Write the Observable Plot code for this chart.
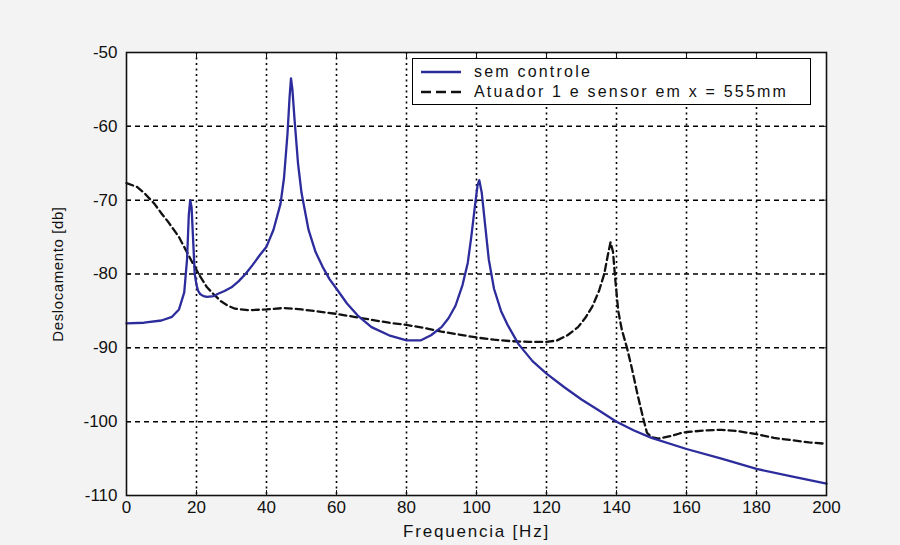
<!DOCTYPE html>
<html>
<head>
<meta charset="utf-8">
<script src="https://cdn.jsdelivr.net/npm/d3@7"></script>
<script src="https://cdn.jsdelivr.net/npm/@observablehq/plot@0.6"></script>
<style>
  html, body { margin: 0; padding: 0; background: #f3f3f3; }
  #wrap { position: relative; width: 900px; height: 545px; font-family: "Liberation Sans", Arial, sans-serif; }
  #legend { position: absolute; left: 412px; top: 58px; width: 397px; height: 45px; background: #fff; border: 1.5px solid #000; font-size: 16px; letter-spacing: 2.2px; color: #111; }
  #legend .row { position: absolute; left: 0; height: 20px; display: flex; align-items: center; white-space: nowrap; }
  #legend svg { margin-left: 8px; margin-right: 13px; }
</style>
</head>
<body>
<div id="wrap">
  <div id="chart"></div>
  <div id="legend">
    <div class="row" style="top:3px"><svg width="40" height="6"><line x1="0" y1="3" x2="40" y2="3" stroke="#2c2c9c" stroke-width="2.4"/></svg><span id="lg0"></span></div>
    <div class="row" style="top:23px"><svg width="40" height="6"><line x1="0" y1="3" x2="40" y2="3" stroke="#111" stroke-width="2.4" stroke-dasharray="10,5"/></svg><span id="lg1"></span></div>
  </div>
</div>
<script>
const seriesNames = ["sem controle", "Atuador 1 e sensor em x = 555mm"];
const xLabel = "Frequencia [Hz]";
const yLabel = "Deslocamento [db]";
const xTicks = [0, 20, 40, 60, 80, 100, 120, 140, 160, 180, 200];
const yTicks = [-50, -60, -70, -80, -90, -100, -110];

const freqA = [0, 5, 10, 13, 15, 16.5, 17.3, 17.8, 18.2, 18.6, 19, 19.5, 20, 20.5, 21, 22, 23, 25, 26, 28, 30, 32, 34, 36, 38, 40, 42, 44, 45, 46, 46.6, 47, 47.4, 48, 49, 50, 52, 54, 56, 58, 60, 63, 66, 70, 75, 80, 84, 87, 90, 92, 94, 96, 97.5, 98.5, 99.5, 100.3, 100.8, 101.5, 102.5, 103.5, 105, 107, 109, 112, 116, 120, 125, 130, 135, 140, 145, 150, 160, 170, 180, 190, 200];
const semControle = [-86.7, -86.6, -86.3, -85.8, -84.8, -82.5, -78, -72, -70, -71, -75, -80, -81.5, -82.3, -82.7, -83, -83.1, -83.0, -82.7, -82.3, -81.8, -81, -80, -78.8, -77.5, -76.3, -74, -70.5, -67, -61, -56, -53.5, -55, -59, -65, -69, -74, -77, -79, -80.7, -82, -84, -85.6, -87.2, -88.3, -89, -89, -88.3, -87.2, -86, -84.3, -81.5, -78.5, -75, -71, -68, -67.3, -69, -73.5, -78, -82, -85, -87, -89.5, -91.8, -93.5, -95.3, -97, -98.5, -100, -101.2, -102.2, -103.7, -105, -106.4, -107.4, -108.4];

const freqB = [0, 3, 5, 8, 10, 12, 15, 17, 19, 21, 23, 25, 27, 29, 31, 35, 40, 45, 50, 55, 60, 65, 70, 75, 80, 85, 90, 95, 100, 105, 110, 115, 120, 123, 126, 129, 131, 133, 135, 136.5, 137.5, 138.3, 139, 139.7, 140.5, 141.5, 143, 144.5, 146, 147.5, 148.7, 150, 152, 154, 156, 158, 160, 165, 170, 175, 180, 185, 190, 195, 200];
const atuador = [-67.7, -68.2, -69, -70.5, -71.8, -73, -75, -76.8, -78.6, -80.3, -81.8, -82.8, -83.7, -84.3, -84.7, -84.9, -84.8, -84.6, -84.8, -85.1, -85.4, -85.8, -86.2, -86.6, -86.9, -87.3, -87.8, -88.2, -88.6, -88.9, -89.1, -89.2, -89.2, -89, -88.3, -87.2, -86, -84.5, -82.3, -80, -77.5, -75.7, -77, -81, -85, -87.5, -90, -93, -96.3, -99.3, -101.5, -102.1, -102.3, -102.1, -101.9, -101.6, -101.4, -101.2, -101.1, -101.3, -101.7, -102.2, -102.5, -102.8, -103];

const dataA = freqA.map((f, i) => ({f, v: semControle[i]}));
const dataB = freqB.map((f, i) => ({f, v: atuador[i]}));

document.getElementById("lg0").textContent = seriesNames[0];
document.getElementById("lg1").textContent = seriesNames[1];

const fmt = d => String(d);

const chart = Plot.plot({
  width: 900,
  height: 545,
  marginLeft: 126,
  marginRight: 74,
  marginTop: 52,
  marginBottom: 50,
  style: {background: "#f3f3f3", fontFamily: "Liberation Sans, Arial, sans-serif", fontSize: "16px", color: "#111"},
  x: {domain: [0, 200]},
  y: {domain: [-110, -50]},
  marks: [
    Plot.frame({fill: "white", stroke: null}),
    Plot.gridX(xTicks.slice(1, -1), {stroke: "#000", strokeOpacity: 1, strokeWidth: 1.6, strokeDasharray: "2,3.5"}),
    Plot.gridY(yTicks.slice(1, -1), {stroke: "#000", strokeOpacity: 1, strokeWidth: 1.5, strokeDasharray: "5,4"}),
    Plot.line(dataB, {x: "f", y: "v", stroke: "#111", strokeWidth: 2.3, strokeDasharray: "7,4"}),
    Plot.line(dataA, {x: "f", y: "v", stroke: "#2c2c9c", strokeWidth: 2.3}),
    Plot.frame({stroke: "#111", strokeWidth: 1.6}),
    Plot.axisX(xTicks, {anchor: "bottom", tickSize: -5, tickFormat: () => "", label: null}),
    Plot.axisX(xTicks, {anchor: "top", tickSize: -5, tickFormat: () => "", label: null}),
    Plot.axisY(yTicks, {anchor: "left", tickSize: -5, tickFormat: () => "", label: null}),
    Plot.axisY(yTicks, {anchor: "right", tickSize: -5, tickFormat: () => "", label: null}),
    Plot.axisX(xTicks, {anchor: "bottom", tickSize: 0, tickPadding: 5, fontSize: 17, tickFormat: fmt, label: null}),
    Plot.axisY(yTicks, {anchor: "left", tickSize: 0, tickPadding: 9, fontSize: 17, tickFormat: fmt, label: null}),
    Plot.text([xLabel], {frameAnchor: "bottom", dy: 36, fontSize: 17, fill: "#111", textAnchor: "middle", lineAnchor: "middle"}),
    Plot.text([yLabel], {frameAnchor: "left", dx: -68, rotate: -90, fontSize: 15, fill: "#111", textAnchor: "middle", lineAnchor: "middle"})
  ]
});
d3.select(chart).selectAll("text").filter(function() { return this.textContent === xLabel; }).style("letter-spacing", "1.8px");
d3.select(chart).selectAll("text").filter(function() { return this.textContent === yLabel; }).style("letter-spacing", "0.6px");
document.getElementById("chart").appendChild(chart);
</script>
</body>
</html>
